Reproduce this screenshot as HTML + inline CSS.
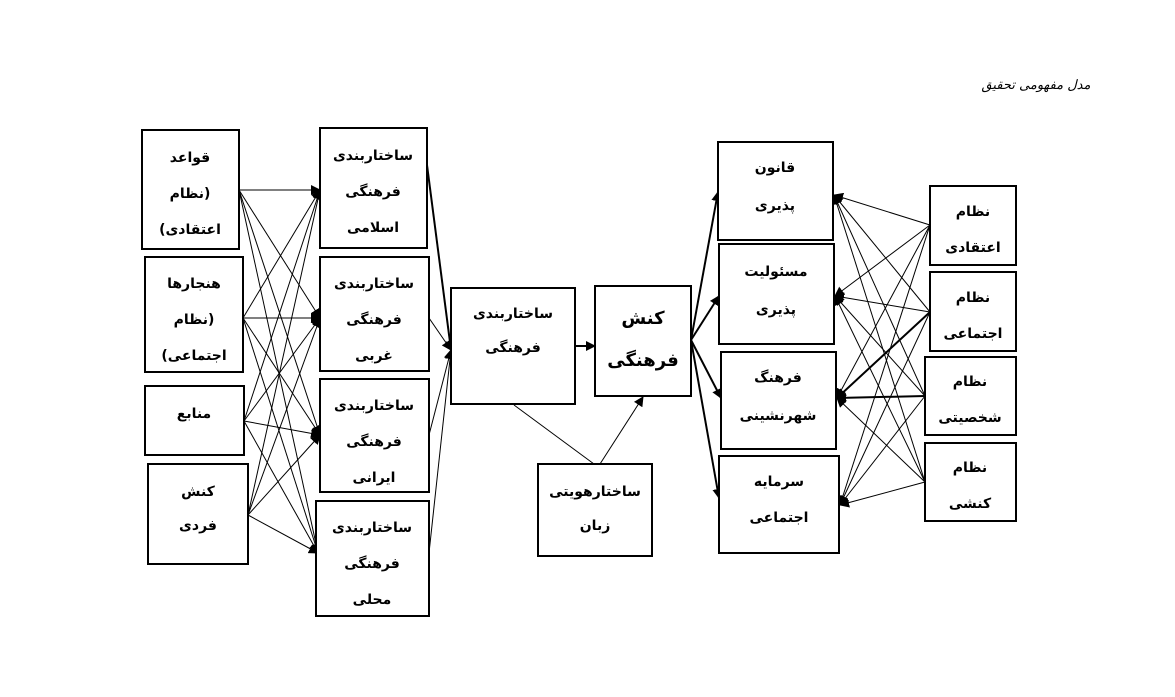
<!DOCTYPE html>
<html><head><meta charset="utf-8"><style>
html,body{margin:0;padding:0;background:#fff;width:1175px;height:697px;overflow:hidden}
svg text{font-family:"DejaVu Sans","Noto Sans CJK SC",sans-serif;font-size:14px;font-weight:bold;text-anchor:middle;direction:rtl}
</style></head><body>
<svg width="1175" height="697" xmlns="http://www.w3.org/2000/svg">
<defs><marker id="a" markerWidth="10" markerHeight="10" refX="9" refY="5" orient="auto" markerUnits="userSpaceOnUse"><path d="M0,0 L10,5 L0,10 z" fill="#000"/></marker></defs>
<g stroke="#000" stroke-width="1" fill="none" marker-end="url(#a)">
<line x1="239" y1="190" x2="320" y2="190"/><line x1="239" y1="190" x2="320" y2="318"/><line x1="239" y1="190" x2="320" y2="435"/><line x1="239" y1="190" x2="318" y2="553"/>
<line x1="243" y1="318" x2="320" y2="190"/><line x1="243" y1="318" x2="320" y2="318"/><line x1="243" y1="318" x2="320" y2="435"/><line x1="243" y1="318" x2="318" y2="553"/>
<line x1="244" y1="421" x2="320" y2="190"/><line x1="244" y1="421" x2="320" y2="318"/><line x1="244" y1="421" x2="320" y2="435"/><line x1="244" y1="421" x2="318" y2="553"/>
<line x1="248" y1="515" x2="320" y2="190"/><line x1="248" y1="515" x2="320" y2="318"/><line x1="248" y1="515" x2="320" y2="435"/><line x1="248" y1="515" x2="318" y2="553"/>
<line x1="427" y1="165" x2="451" y2="350" stroke-width="2"/><line x1="429" y1="318" x2="451" y2="350"/><line x1="429" y1="435" x2="451" y2="350"/><line x1="429" y1="553" x2="451" y2="350"/>
<line x1="575" y1="346" x2="595" y2="346" stroke-width="2"/>
<line x1="514" y1="405" x2="594" y2="464" marker-end="none"/>
<line x1="600" y1="464" x2="643" y2="397"/>
<line x1="691" y1="340" x2="718" y2="192" stroke-width="2"/><line x1="691" y1="340" x2="719" y2="296" stroke-width="2"/><line x1="691" y1="340" x2="721" y2="398" stroke-width="2"/><line x1="691" y1="340" x2="719" y2="498" stroke-width="2"/>
<line x1="930" y1="225" x2="834" y2="195"/><line x1="930" y1="225" x2="835" y2="296"/><line x1="930" y1="225" x2="837" y2="398"/><line x1="930" y1="225" x2="840" y2="505"/>
<line x1="930" y1="312" x2="834" y2="195"/><line x1="930" y1="312" x2="835" y2="296"/><line x1="930" y1="312" x2="837" y2="398" stroke-width="2"/><line x1="930" y1="312" x2="840" y2="505"/>
<line x1="925" y1="396" x2="834" y2="195"/><line x1="925" y1="396" x2="835" y2="296"/><line x1="925" y1="396" x2="837" y2="398" stroke-width="2"/><line x1="925" y1="396" x2="840" y2="505"/>
<line x1="925" y1="482" x2="834" y2="195"/><line x1="925" y1="482" x2="835" y2="296"/><line x1="925" y1="482" x2="837" y2="398"/><line x1="925" y1="482" x2="840" y2="505"/>
</g>
<g stroke="#000" stroke-width="2" fill="#fff">
<rect x="142" y="130" width="97" height="119"/><rect x="145" y="257" width="98" height="115"/><rect x="145" y="386" width="99" height="69"/><rect x="148" y="464" width="100" height="100"/>
<rect x="320" y="128" width="107" height="120"/><rect x="320" y="257" width="109" height="114"/><rect x="320" y="379" width="109" height="113"/><rect x="316" y="501" width="113" height="115"/>
<rect x="451" y="288" width="124" height="116"/><rect x="595" y="286" width="96" height="110"/><rect x="538" y="464" width="114" height="92"/>
<rect x="718" y="142" width="115" height="98"/><rect x="719" y="244" width="115" height="100"/><rect x="721" y="352" width="115" height="97"/><rect x="719" y="456" width="120" height="97"/>
<rect x="930" y="186" width="86" height="79"/><rect x="930" y="272" width="86" height="79"/><rect x="925" y="357" width="91" height="78"/><rect x="925" y="443" width="91" height="78"/>
</g>
<g>
<text x="190" y="162">قواعد</text><text x="190" y="198">(نظام</text><text x="190" y="234">اعتقادی)</text>
<text x="194" y="288">هنجارها</text><text x="194" y="324">(نظام</text><text x="194" y="360">اجتماعی)</text>
<text x="194" y="418">منابع</text>
<text x="198" y="496">کنش</text><text x="198" y="530">فردی</text>
<text x="373" y="160">ساختاربندی</text><text x="373" y="196">فرهنگی</text><text x="373" y="232">اسلامی</text>
<text x="374" y="288">ساختاربندی</text><text x="374" y="324">فرهنگی</text><text x="374" y="360">غربی</text>
<text x="374" y="410">ساختاربندی</text><text x="374" y="446">فرهنگی</text><text x="374" y="482">ایرانی</text>
<text x="372" y="532">ساختاربندی</text><text x="372" y="568">فرهنگی</text><text x="372" y="604">محلی</text>
<text x="513" y="318">ساختاربندی</text><text x="513" y="352">فرهنگی</text>
<text x="643" y="324" style="font-size:18px">کنش</text><text x="643" y="366" style="font-size:18px">فرهنگی</text>
<text x="595" y="496">ساختارهویتی</text><text x="595" y="530">زبان</text>
<text x="775" y="172">قانون</text><text x="775" y="210">پذیری</text>
<text x="776" y="276">مسئولیت</text><text x="776" y="314">پذیری</text>
<text x="778" y="382">فرهنگ</text><text x="778" y="420">شهرنشینی</text>
<text x="779" y="486">سرمایه</text><text x="779" y="522">اجتماعی</text>
<text x="973" y="216">نظام</text><text x="973" y="252">اعتقادی</text>
<text x="973" y="302">نظام</text><text x="973" y="338">اجتماعی</text>
<text x="970" y="386">نظام</text><text x="970" y="422">شخصیتی</text>
<text x="970" y="472">نظام</text><text x="970" y="508">کنشی</text>
<text x="1036" y="89" style="font-size:13px;font-weight:normal;font-style:italic">مدل مفهومی تحقیق</text>
</g>
</svg>
</body></html>
